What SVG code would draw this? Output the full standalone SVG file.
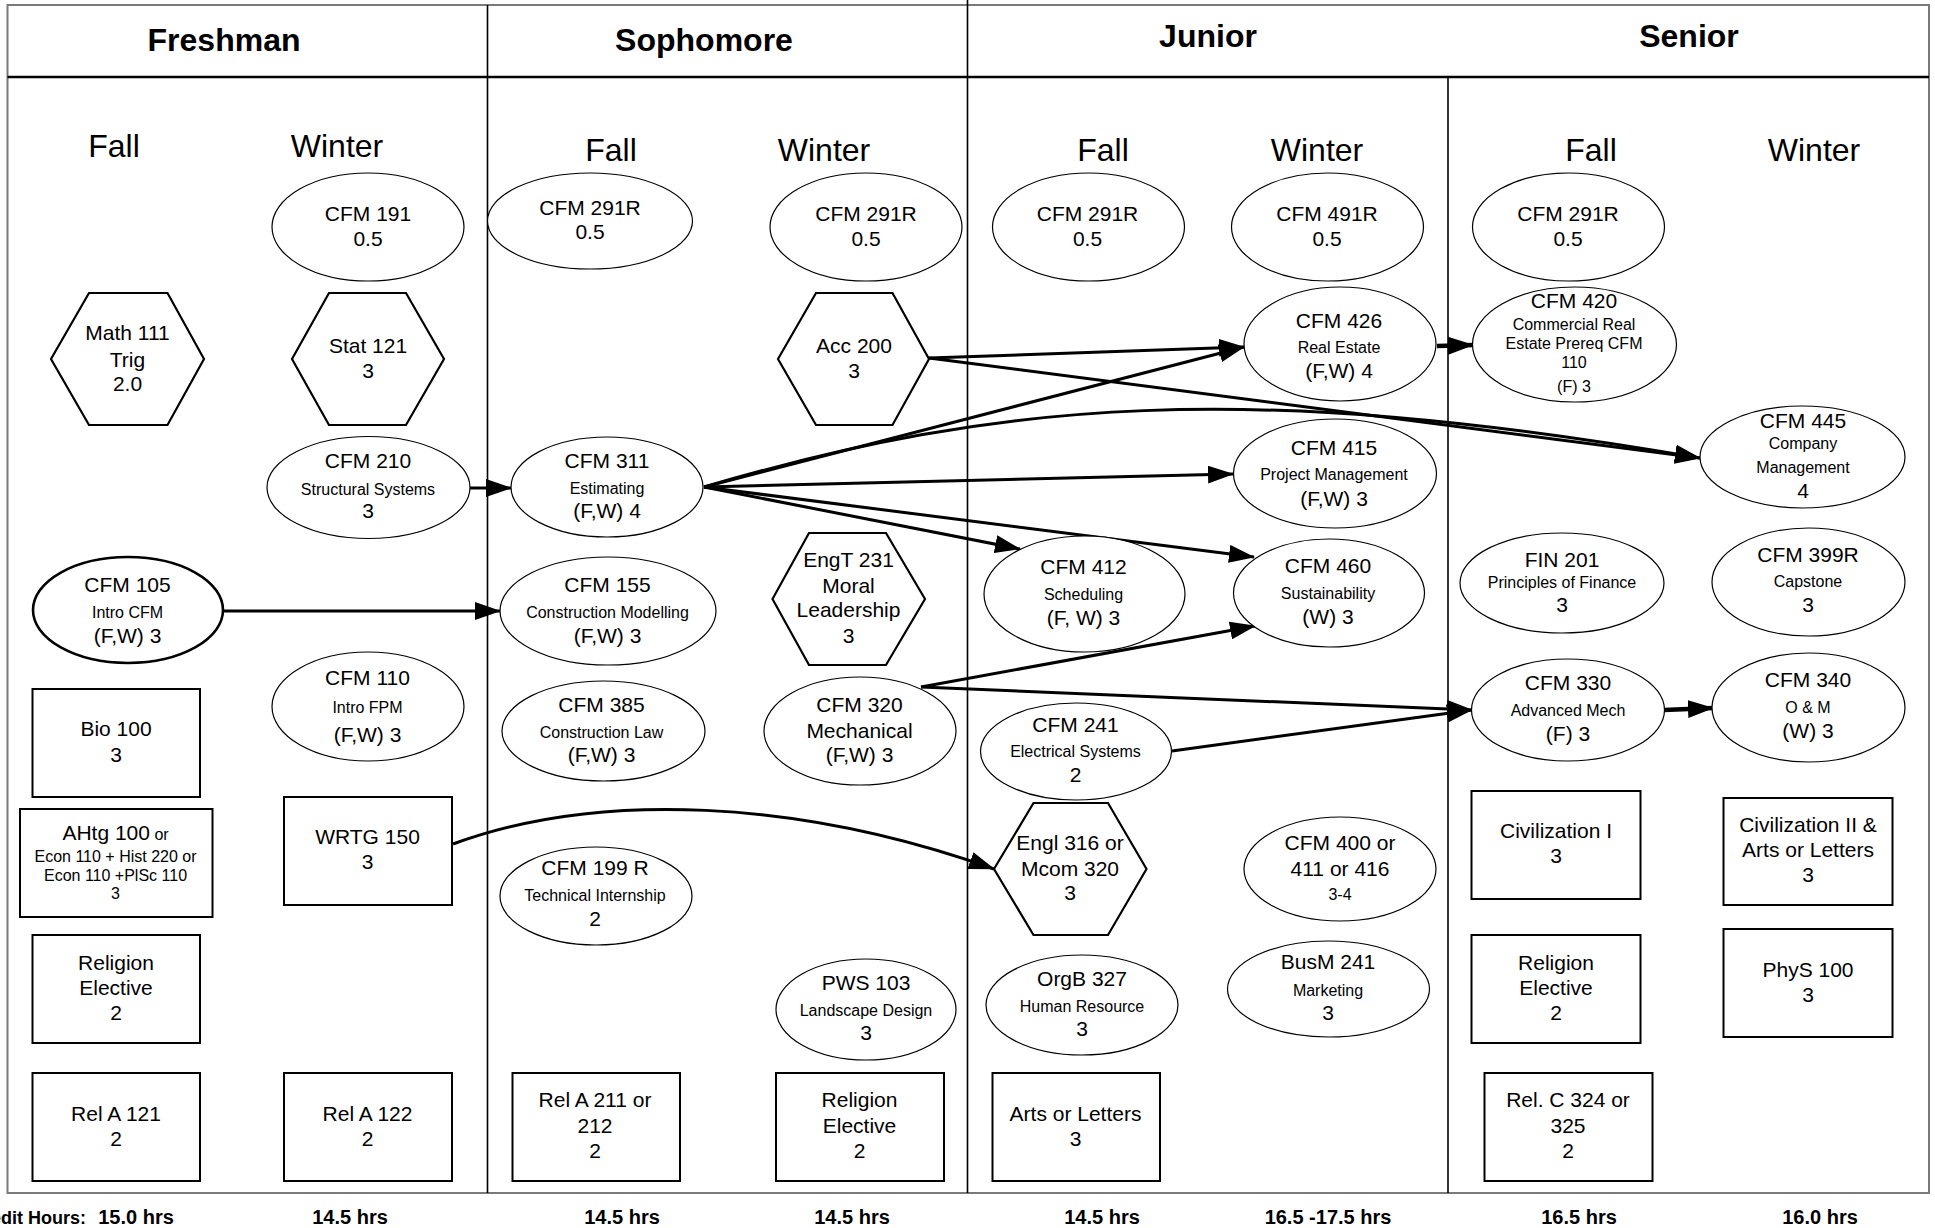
<svg xmlns="http://www.w3.org/2000/svg" width="1935" height="1228" viewBox="0 0 1935 1228">
<defs>
<style>
text{font-family:"Liberation Sans",Arial,sans-serif;fill:#000;text-anchor:middle}
.t{font-size:21px}
.s{font-size:16px}
.hdr{font-size:32px;font-weight:bold}
.sea{font-size:32px}
.hrs{font-size:20px;font-weight:bold}
.el{fill:#fff;stroke:#000;stroke-width:1.2}
.elb{fill:#fff;stroke:#000;stroke-width:2.6}
.hx{fill:#fff;stroke:#000;stroke-width:2.2}
.bx{fill:#fff;stroke:#000;stroke-width:2}
.frame{fill:none;stroke:#7a7a7a;stroke-width:2}
.div{stroke:#000;stroke-width:1.6}
.cn{fill:none;stroke:#000;stroke-width:3;marker-end:url(#ah)}
.cnt{fill:none;stroke:#000;stroke-width:4.5;marker-end:url(#ah)}
</style>
<marker id="ah" markerUnits="userSpaceOnUse" markerWidth="26" markerHeight="18" refX="25" refY="9" orient="auto">
<path d="M0,0 L26,9 L0,18 z" fill="#000"/>
</marker>
</defs>
<rect x="0" y="0" width="1935" height="1228" fill="#fff"/>

<g id="grid">
<rect class="frame" x="7.5" y="5" width="1921.5" height="1188"/>
<line x1="7.5" y1="77" x2="1929" y2="77" stroke="#000" stroke-width="2.6"/>
<line class="div" x1="487.5" y1="5" x2="487.5" y2="1193"/>
<line class="div" x1="967.5" y1="0" x2="967.5" y2="1193"/>
<line class="div" x1="1448" y1="77" x2="1448" y2="1193"/>
<text class="hdr" x="224" y="51">Freshman</text>
<text class="hdr" x="704" y="51">Sophomore</text>
<text class="hdr" x="1208" y="47">Junior</text>
<text class="hdr" x="1689" y="47">Senior</text>
<text class="sea" x="114" y="157">Fall</text>
<text class="sea" x="337" y="157">Winter</text>
<text class="sea" x="611" y="161">Fall</text>
<text class="sea" x="824" y="161">Winter</text>
<text class="sea" x="1103" y="161">Fall</text>
<text class="sea" x="1317" y="161">Winter</text>
<text class="sea" x="1591" y="161">Fall</text>
<text class="sea" x="1814" y="161">Winter</text>
<text class="hrs" x="86" y="1224" style="text-anchor:end;font-size:18px">Credit Hours:</text>
<text class="hrs" x="136" y="1224">15.0 hrs</text>
<text class="hrs" x="350" y="1224">14.5 hrs</text>
<text class="hrs" x="622" y="1224">14.5 hrs</text>
<text class="hrs" x="852" y="1224">14.5 hrs</text>
<text class="hrs" x="1102" y="1224">14.5 hrs</text>
<text class="hrs" x="1328" y="1224">16.5 -17.5 hrs</text>
<text class="hrs" x="1579" y="1224">16.5 hrs</text>
<text class="hrs" x="1820" y="1224">16.0 hrs</text>
</g>

<g id="connectors">
<line class="cn" x1="470" y1="488" x2="511" y2="488"/>
<line class="cn" x1="223" y1="611" x2="500" y2="611"/>
<line class="cn" x1="704" y1="487" x2="1244" y2="347"/>
<line class="cn" x1="929" y1="358" x2="1244" y2="347"/>
<line class="cn" x1="929" y1="358" x2="1700" y2="458"/>
<path class="cn" d="M704,487 C1000,400 1250,380 1700,458"/>
<line class="cn" x1="704" y1="487" x2="1233" y2="474"/>
<line class="cn" x1="704" y1="487" x2="1020" y2="549"/>
<line class="cn" x1="704" y1="487" x2="1254" y2="557"/>
<line class="cn" x1="921" y1="687" x2="1255" y2="626"/>
<line class="cn" x1="921" y1="687" x2="1472" y2="710"/>
<line class="cn" x1="1172" y1="751" x2="1472" y2="710"/>
<line class="cnt" x1="1664" y1="710" x2="1713" y2="708"/>
<line class="cnt" x1="1437" y1="346" x2="1473" y2="345"/>
<path class="cn" d="M453,844 C600,790 800,800 994,869"/>
</g>

<g id="n-cfm191"><ellipse class="el" cx="368" cy="227" rx="96" ry="54"/><text class="t" x="368" y="221">CFM 191</text><text class="t" x="368" y="246">0.5</text></g>
<g id="n-cfm291r-sf"><ellipse class="el" cx="590" cy="221" rx="102.5" ry="48"/><text class="t" x="590" y="215">CFM 291R</text><text class="t" x="590" y="239">0.5</text></g>
<g id="n-cfm291r-sw"><ellipse class="el" cx="866" cy="227" rx="96" ry="54"/><text class="t" x="866" y="221">CFM 291R</text><text class="t" x="866" y="246">0.5</text></g>
<g id="n-cfm291r-jf"><ellipse class="el" cx="1088.5" cy="227" rx="96" ry="54"/><text class="t" x="1087.5" y="221">CFM 291R</text><text class="t" x="1087.5" y="246">0.5</text></g>
<g id="n-cfm491r"><ellipse class="el" cx="1327.5" cy="227" rx="96" ry="54"/><text class="t" x="1327" y="221">CFM 491R</text><text class="t" x="1327" y="246">0.5</text></g>
<g id="n-cfm291r-senf"><ellipse class="el" cx="1568.5" cy="227" rx="96" ry="54"/><text class="t" x="1568" y="221">CFM 291R</text><text class="t" x="1568" y="246">0.5</text></g>

<g id="n-math111"><polygon class="hx" points="51,359 89,293 167.5,293 204,359 167.5,425 89,425"/><text class="t" x="127.5" y="340">Math 111</text><text class="t" x="127.5" y="367">Trig</text><text class="t" x="127.5" y="391">2.0</text></g>
<g id="n-stat121"><polygon class="hx" points="292,359 329,293 406,293 444,359 406,425 329,425"/><text class="t" x="368" y="353">Stat 121</text><text class="t" x="368" y="378">3</text></g>
<g id="n-acc200"><polygon class="hx" points="778,359 816,293 892.5,293 929,359 892.5,425 816,425"/><text class="t" x="854" y="353">Acc 200</text><text class="t" x="854" y="378">3</text></g>
<g id="n-cfm426"><ellipse class="el" cx="1340" cy="344" rx="96" ry="57"/><text class="t" x="1339" y="328">CFM 426</text><text class="s" x="1339" y="353">Real Estate</text><text class="t" x="1339" y="378">(F,W) 4</text></g>
<g id="n-cfm420"><ellipse class="el" cx="1574.5" cy="344.5" rx="102" ry="57.5"/><text class="t" x="1574" y="308">CFM 420</text><text class="s" x="1574" y="330">Commercial Real</text><text class="s" x="1574" y="349">Estate Prereq CFM</text><text class="s" x="1574" y="368">110</text><text class="s" x="1574" y="392">(F) 3</text></g>

<g id="n-cfm210"><ellipse class="el" cx="368.5" cy="487.5" rx="101.5" ry="51"/><text class="t" x="368" y="468">CFM 210</text><text class="s" x="368" y="495">Structural Systems</text><text class="t" x="368" y="518">3</text></g>
<g id="n-cfm311"><ellipse class="el" cx="607" cy="487" rx="96" ry="50"/><text class="t" x="607" y="468">CFM 311</text><text class="s" x="607" y="494">Estimating</text><text class="t" x="607" y="518">(F,W) 4</text></g>
<g id="n-cfm415"><ellipse class="el" cx="1335" cy="473.5" rx="101.5" ry="54.5"/><text class="t" x="1334" y="455">CFM 415</text><text class="s" x="1334" y="480">Project Management</text><text class="t" x="1334" y="506">(F,W) 3</text></g>
<g id="n-cfm445"><ellipse class="el" cx="1802.5" cy="457" rx="102.5" ry="51"/><text class="t" x="1803" y="428">CFM 445</text><text class="s" x="1803" y="449">Company</text><text class="s" x="1803" y="473">Management</text><text class="t" x="1803" y="498">4</text></g>

<g id="n-cfm105"><ellipse class="elb" cx="128" cy="610" rx="95" ry="53"/><text class="t" x="127.5" y="592">CFM 105</text><text class="s" x="127.5" y="618">Intro CFM</text><text class="t" x="127.5" y="643">(F,W) 3</text></g>
<g id="n-cfm155"><ellipse class="el" cx="608" cy="611" rx="108" ry="54"/><text class="t" x="607.5" y="592">CFM 155</text><text class="s" x="607.5" y="618">Construction Modelling</text><text class="t" x="607.5" y="643">(F,W) 3</text></g>
<g id="n-engt231"><polygon class="hx" points="772.5,599 809,533 886,533 925,599 886,665 809,665"/><text class="t" x="848.5" y="567">EngT 231</text><text class="t" x="848.5" y="593">Moral</text><text class="t" x="848.5" y="617">Leadership</text><text class="t" x="848.5" y="643">3</text></g>
<g id="n-cfm412"><ellipse class="el" cx="1084.5" cy="594" rx="100.5" ry="58"/><text class="t" x="1083.5" y="574">CFM 412</text><text class="s" x="1083.5" y="600">Scheduling</text><text class="t" x="1083.5" y="625">(F, W) 3</text></g>
<g id="n-cfm460"><ellipse class="el" cx="1329" cy="593" rx="95.5" ry="54"/><text class="t" x="1328" y="573">CFM 460</text><text class="s" x="1328" y="599">Sustainability</text><text class="t" x="1328" y="624">(W) 3</text></g>
<g id="n-fin201"><ellipse class="el" cx="1562" cy="583" rx="102" ry="50"/><text class="t" x="1562" y="567">FIN 201</text><text class="s" x="1562" y="588">Principles of Finance</text><text class="t" x="1562" y="612">3</text></g>
<g id="n-cfm399r"><ellipse class="el" cx="1808.5" cy="582" rx="96.5" ry="54"/><text class="t" x="1808" y="562">CFM 399R</text><text class="s" x="1808" y="587">Capstone</text><text class="t" x="1808" y="612">3</text></g>

<g id="n-bio100"><rect class="bx" x="32.5" y="689" width="167.5" height="108"/><text class="t" x="116" y="736">Bio 100</text><text class="t" x="116" y="762">3</text></g>
<g id="n-cfm110"><ellipse class="el" cx="368" cy="706.5" rx="96" ry="54.5"/><text class="t" x="367.5" y="685">CFM 110</text><text class="s" x="367.5" y="713">Intro FPM</text><text class="t" x="367.5" y="742">(F,W) 3</text></g>
<g id="n-cfm385"><ellipse class="el" cx="603.5" cy="731" rx="101.5" ry="50"/><text class="t" x="601.5" y="712">CFM 385</text><text class="s" x="601.5" y="738">Construction Law</text><text class="t" x="601.5" y="762">(F,W) 3</text></g>
<g id="n-cfm320"><ellipse class="el" cx="860" cy="731" rx="96" ry="54"/><text class="t" x="859.5" y="712">CFM 320</text><text class="t" x="859.5" y="738">Mechanical</text><text class="t" x="859.5" y="762">(F,W) 3</text></g>
<g id="n-cfm241"><ellipse class="el" cx="1076" cy="751.5" rx="95.5" ry="48.5"/><text class="t" x="1075.5" y="732">CFM 241</text><text class="s" x="1075.5" y="757">Electrical Systems</text><text class="t" x="1075.5" y="782">2</text></g>
<g id="n-cfm330"><ellipse class="el" cx="1568" cy="710" rx="96.5" ry="51"/><text class="t" x="1568" y="690">CFM 330</text><text class="s" x="1568" y="716">Advanced Mech</text><text class="t" x="1568" y="741">(F) 3</text></g>
<g id="n-cfm340"><ellipse class="el" cx="1808.5" cy="707.5" rx="96.5" ry="54.5"/><text class="t" x="1808" y="687">CFM 340</text><text class="s" x="1808" y="713">O &amp; M</text><text class="t" x="1808" y="738">(W) 3</text></g>

<g id="n-ahtg100"><rect class="bx" x="20" y="809" width="192.5" height="108"/><text class="t" x="115.5" y="840">AHtg 100<tspan class="s"> or</tspan></text><text class="s" x="115.5" y="862">Econ 110 + Hist 220 or</text><text class="s" x="115.5" y="881">Econ 110 +PlSc 110</text><text class="s" x="115.5" y="899">3</text></g>
<g id="n-wrtg150"><rect class="bx" x="284" y="797" width="168" height="108"/><text class="t" x="367.5" y="844">WRTG 150</text><text class="t" x="367.5" y="869">3</text></g>
<g id="n-cfm199r"><ellipse class="el" cx="596" cy="896" rx="96" ry="49"/><text class="t" x="595" y="875">CFM 199 R</text><text class="s" x="595" y="901">Technical Internship</text><text class="t" x="595" y="926">2</text></g>
<g id="n-engl316"><polygon class="hx" points="994,869 1033.5,803 1108,803 1146.5,869 1108,935 1033.5,935"/><text class="t" x="1070" y="850">Engl 316 or</text><text class="t" x="1070" y="876">Mcom 320</text><text class="t" x="1070" y="900">3</text></g>
<g id="n-cfm400"><ellipse class="el" cx="1340" cy="869" rx="96" ry="52"/><text class="t" x="1340" y="850">CFM 400 or</text><text class="t" x="1340" y="876">411 or 416</text><text class="s" x="1340" y="900">3-4</text></g>
<g id="n-civ1"><rect class="bx" x="1471.5" y="791" width="169" height="108"/><text class="t" x="1556" y="838">Civilization I</text><text class="t" x="1556" y="863">3</text></g>
<g id="n-civ2"><rect class="bx" x="1723.5" y="798" width="169" height="107"/><text class="t" x="1808" y="832">Civilization II &amp;</text><text class="t" x="1808" y="857">Arts or Letters</text><text class="t" x="1808" y="882">3</text></g>

<g id="n-relelec-ff"><rect class="bx" x="32.5" y="935" width="167.5" height="108"/><text class="t" x="116" y="970">Religion</text><text class="t" x="116" y="995">Elective</text><text class="t" x="116" y="1020">2</text></g>
<g id="n-pws103"><ellipse class="el" cx="866" cy="1009.5" rx="90" ry="50.5"/><text class="t" x="866" y="990">PWS 103</text><text class="s" x="866" y="1016">Landscape Design</text><text class="t" x="866" y="1040">3</text></g>
<g id="n-orgb327"><ellipse class="el" cx="1082" cy="1005" rx="96" ry="50"/><text class="t" x="1082" y="986">OrgB 327</text><text class="s" x="1082" y="1012">Human Resource</text><text class="t" x="1082" y="1036">3</text></g>
<g id="n-busm241"><ellipse class="el" cx="1328.5" cy="989" rx="101" ry="48"/><text class="t" x="1328" y="969">BusM 241</text><text class="s" x="1328" y="996">Marketing</text><text class="t" x="1328" y="1020">3</text></g>
<g id="n-relelec-sf"><rect class="bx" x="1471.5" y="935" width="169" height="108"/><text class="t" x="1556" y="970">Religion</text><text class="t" x="1556" y="995">Elective</text><text class="t" x="1556" y="1020">2</text></g>
<g id="n-phys100"><rect class="bx" x="1723.5" y="929" width="169" height="108"/><text class="t" x="1808" y="977">PhyS 100</text><text class="t" x="1808" y="1002">3</text></g>

<g id="n-rela121"><rect class="bx" x="32.5" y="1073" width="167.5" height="108"/><text class="t" x="116" y="1121">Rel A 121</text><text class="t" x="116" y="1146">2</text></g>
<g id="n-rela122"><rect class="bx" x="284" y="1073" width="168" height="108"/><text class="t" x="367.5" y="1121">Rel A 122</text><text class="t" x="367.5" y="1146">2</text></g>
<g id="n-rela211"><rect class="bx" x="512.5" y="1073" width="167.5" height="108"/><text class="t" x="595" y="1107">Rel A 211 or</text><text class="t" x="595" y="1133">212</text><text class="t" x="595" y="1158">2</text></g>
<g id="n-relelec-sw"><rect class="bx" x="776" y="1073" width="168" height="108"/><text class="t" x="859.5" y="1107">Religion</text><text class="t" x="859.5" y="1133">Elective</text><text class="t" x="859.5" y="1158">2</text></g>
<g id="n-arts"><rect class="bx" x="992.5" y="1073" width="167.5" height="108"/><text class="t" x="1075.5" y="1121">Arts or Letters</text><text class="t" x="1075.5" y="1146">3</text></g>
<g id="n-relc324"><rect class="bx" x="1484.5" y="1073" width="168" height="108"/><text class="t" x="1568" y="1107">Rel. C 324 or</text><text class="t" x="1568" y="1133">325</text><text class="t" x="1568" y="1158">2</text></g>
</svg>
